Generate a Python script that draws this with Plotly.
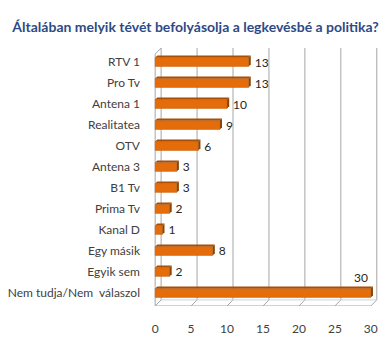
import plotly.graph_objects as go

title = "Általában melyik tévét befolyásolja a legkevésbé a politika?"
categories = ["RTV 1", "Pro Tv", "Antena 1", "Realitatea", "OTV", "Antena 3",
              "B1 Tv", "Prima Tv", "Kanal D", "Egy másik", "Egyik sem",
              "Nem tudja/Nem  válaszol"]
values = [13, 13, 10, 9, 6, 3, 3, 2, 1, 8, 2, 30]
x_ticks = [0, 5, 10, 15, 20, 25, 30]

FRONT = "#E46C0A"
TOP = "#A54F08"
SIDE = "#8E4406"
FONT = "Lato"

n = len(categories)
pos = list(range(n))
bw = 0.42          # bar thickness (category units)
dx, dy = 0.3, 0.1  # 3D depth of bar faces
wx, wy = 0.83, 0.29  # 3D depth of walls
y_top, y_bot = -0.667, n - 0.38
x_min, x_max = -0.3, 31

vmax = max(values)
labels = ["" if v == vmax else f" {v}" for v in values]

fig = go.Figure()
fig.add_trace(go.Bar(
    x=values, y=pos, orientation="h", width=bw,
    marker=dict(color=FRONT, line=dict(color="#C45A06", width=0.5)),
    text=labels, textposition="outside", cliponaxis=False, constraintext="none",
    textfont=dict(family=FONT, size=12, color="#262626"),
    hoverinfo="skip",
))

shapes = []
grid = "#A6A6A6"
# back wall gridlines and floor lines
for t in x_ticks:
    shapes.append(dict(type="line", xref="x", yref="y", x0=t + wx, x1=t + wx,
                       y0=y_top, y1=y_bot - wy, line=dict(color=grid, width=1), layer="below"))
    shapes.append(dict(type="line", xref="x", yref="y", x0=t, x1=t + wx,
                       y0=y_bot, y1=y_bot - wy, line=dict(color=grid, width=1), layer="below"))
# left wall front edge and floor front/back edges
shapes.append(dict(type="line", xref="x", yref="y", x0=0, x1=0, y0=y_top + wy, y1=y_bot,
                   line=dict(color=grid, width=1), layer="below"))
shapes.append(dict(type="line", xref="x", yref="y", x0=0, x1=wx, y0=y_top + wy, y1=y_top,
                   line=dict(color=grid, width=1), layer="below"))
shapes.append(dict(type="line", xref="x", yref="y", x0=0, x1=x_ticks[-1], y0=y_bot, y1=y_bot,
                   line=dict(color=grid, width=1), layer="below"))
shapes.append(dict(type="line", xref="x", yref="y", x0=wx, x1=x_ticks[-1] + wx,
                   y0=y_bot - wy, y1=y_bot - wy, line=dict(color="#D0D0D0", width=1), layer="below"))

# 3D faces of bars
for c, v in zip(pos, values):
    t0 = c - bw / 2
    b0 = c + bw / 2
    shapes.append(dict(type="path", xref="x", yref="y",
                       path=f"M 0,{t0} L {v},{t0} L {v+dx},{t0-dy} L {dx},{t0-dy} Z",
                       fillcolor=TOP, line=dict(width=0)))
    shapes.append(dict(type="path", xref="x", yref="y",
                       path=f"M {v},{t0} L {v+dx},{t0-dy} L {v+dx},{b0-dy} L {v},{b0} Z",
                       fillcolor=SIDE, line=dict(width=0)))

annotations = []
for c, v in zip(pos, values):
    if v == vmax:
        annotations.append(dict(x=v, y=c, xref="x", yref="y", text=str(v),
                                showarrow=False, xanchor="right", yanchor="bottom",
                                xshift=-1, yshift=6,
                                font=dict(family=FONT, size=12, color="#262626")))

fig.update_layout(
    width=385, height=350,
    margin=dict(l=153, r=7, t=48, b=44),
    paper_bgcolor="white", plot_bgcolor="white",
    showlegend=False,
    title=dict(text=f"<b>{title}</b>", x=0.508, xref="container", xanchor="center",
               y=0.922, yref="container", yanchor="middle",
               font=dict(family=FONT, size=14, color="#2E4A86")),
    xaxis=dict(range=[x_min, x_max], tickvals=x_ticks, showgrid=False, zeroline=False,
               showline=False, ticks="", ticklabelstandoff=14,
               tickfont=dict(family=FONT, size=12, color="#404040"), fixedrange=True),
    yaxis=dict(range=[y_bot, y_top], tickvals=pos, ticktext=categories, showgrid=False,
               zeroline=False, showline=False, ticks="", ticklabelstandoff=12,
               tickfont=dict(family=FONT, size=12, color="#404040"), fixedrange=True),
    shapes=shapes, annotations=annotations,
    bargap=0.5,
)

fig.write_html("out.html")
